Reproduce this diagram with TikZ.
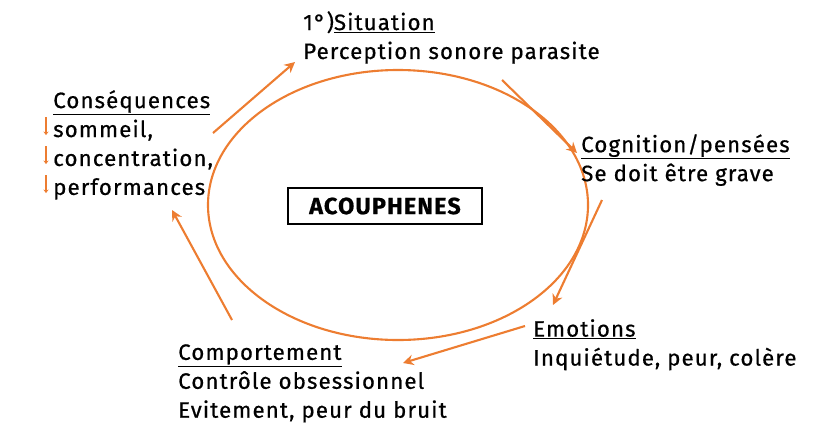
\documentclass[tikz,border=0pt]{standalone}
\usepackage{fontspec}
\setmainfont{Fira Sans}[FakeBold=0.6,LetterSpace=5]
\usetikzlibrary{arrows.meta}
\definecolor{cycleorange}{RGB}{237,125,49}
\tikzset{
  stage/.style={anchor=north west,align=left,inner sep=0pt,
    font=\fontsize{19}{24.7}\selectfont},
  cyclearrow/.style={draw=cycleorange,line width=1.8pt,-{Stealth[length=9pt,width=9pt]}},
  downarrow/.style={draw=cycleorange,line width=2pt,-{Stealth[length=3pt,width=4.5pt]}}
}
\begin{document}
\begin{tikzpicture}[x=0.03cm,y=-0.03cm]
\useasboundingbox (0,0) rectangle (813,441);

\draw [cycleorange,line width=1.8pt] (398,205) ellipse [x radius=190,y radius=135];
\node (core) [draw,line width=1.2pt,minimum width=194*0.03cm,minimum height=36*0.03cm,
  font=\fontsize{20}{22}\selectfont\bfseries] at (385,206) {ACOUPHENES};

\node (situation) [stage] at (303,11) {1°)\underline{Situation}\\Perception sonore parasite};
\node (cognition) [stage] at (581,134) {\underline{Cognition/pensées}\\Se doit être grave};
\node (emotions) [stage] at (533,319) {\underline{Emotions}\\Inquiétude, peur, colère};
\node (comportement) [stage] at (178,344) {\underline{Comportement}\\Contrôle obsessionnel\\Evitement, peur du bruit};
\node (consequences) [stage] at (53,90) {\underline{Conséquences}\\sommeil,\\concentration,\\performances};

\foreach \y in {117,146,175}
  \draw [downarrow] (46,\y) -- (46,\y+18);

\coordinate (a1) at (213,133); \coordinate (b1) at (295,62);
\coordinate (a2) at (502,80);  \coordinate (b2) at (577,153);
\coordinate (a3) at (602,200); \coordinate (b3) at (553,305);
\coordinate (a4) at (525,326); \coordinate (b4) at (403,363);
\coordinate (a5) at (232,320); \coordinate (b5) at (172,210);
\foreach \i in {1,...,5}
  \draw [cyclearrow] (a\i) -- (b\i);

\end{tikzpicture}
\end{document}
